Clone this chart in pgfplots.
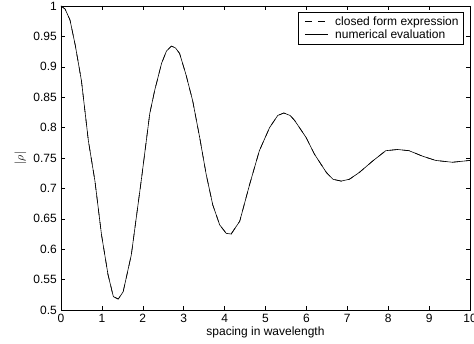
\documentclass[border=0pt]{standalone}
\usepackage{pgfplots}
\pgfplotsset{compat=1.18}
\usepackage{fontspec}
\setmainfont{Liberation Sans}
\begin{document}
\fontsize{12bp}{14bp}\selectfont
\begin{tikzpicture}
\begin{axis}[
  scale only axis,
  width=409bp, height=304bp,
  xmin=0, xmax=10, ymin=0.5, ymax=1,
  xtick={0,1,...,10},
  ytick={0.5,0.55,...,1.01},
  tick align=inside,
  major tick length=4bp,
  tick style={black, line width=0.5pt},
  axis line style={line width=0.6pt},
  /pgf/number format/assume math mode=true,
  yticklabel style={/pgf/number format/fixed, /pgf/number format/precision=2},
  xlabel={spacing in wavelength},
  ylabel={$|\rho|$},
  xlabel style={yshift=4bp},
  ylabel style={yshift=-1bp},
  legend style={at={(0.985,0.98)}, anchor=north east, draw=black, line width=0.6pt,
    font=\fontsize{12bp}{12bp}\selectfont, inner xsep=3bp, inner ysep=2bp, row sep=-1.5bp,
    legend cell align=left},
  legend image code/.code={\path (-3bp,0bp) (28bp,0bp); \draw[#1] (0bp,0bp) -- (23bp,0bp);},
]
\addplot[black, line width=0.6pt, dash pattern=on 7bp off 6bp] coordinates {
(0,1.0)(0.1,0.995)(0.22,0.977)(0.35,0.935)(0.5,0.877)(0.67,0.778)(0.83,0.712)(0.99,0.624)(1.15,0.558)(1.28,0.522)(1.40,0.518)(1.52,0.530)(1.72,0.591)(1.97,0.717)(2.17,0.823)(2.29,0.861)(2.46,0.906)(2.58,0.926)(2.70,0.934)(2.80,0.931)(2.90,0.922)(3.06,0.886)(3.22,0.844)(3.39,0.784)(3.55,0.723)(3.71,0.673)(3.88,0.640)(4.04,0.626)(4.16,0.625)(4.37,0.646)(4.61,0.706)(4.85,0.762)(5.10,0.800)(5.30,0.820)(5.45,0.824)(5.60,0.820)(5.71,0.812)(5.99,0.784)(6.20,0.756)(6.49,0.726)(6.65,0.715)(6.85,0.712)(7.05,0.715)(7.29,0.726)(7.62,0.745)(7.94,0.762)(8.23,0.764)(8.51,0.762)(8.84,0.753)(9.16,0.746)(9.57,0.743)(10,0.746)
};
\addlegendentry{closed form expression}
\addplot[black, line width=0.6pt] coordinates {
(0,1.0)(0.1,0.995)(0.22,0.977)(0.35,0.935)(0.5,0.877)(0.67,0.778)(0.83,0.712)(0.99,0.624)(1.15,0.558)(1.28,0.522)(1.40,0.518)(1.52,0.530)(1.72,0.591)(1.97,0.717)(2.17,0.823)(2.29,0.861)(2.46,0.906)(2.58,0.926)(2.70,0.934)(2.80,0.931)(2.90,0.922)(3.06,0.886)(3.22,0.844)(3.39,0.784)(3.55,0.723)(3.71,0.673)(3.88,0.640)(4.04,0.626)(4.16,0.625)(4.37,0.646)(4.61,0.706)(4.85,0.762)(5.10,0.800)(5.30,0.820)(5.45,0.824)(5.60,0.820)(5.71,0.812)(5.99,0.784)(6.20,0.756)(6.49,0.726)(6.65,0.715)(6.85,0.712)(7.05,0.715)(7.29,0.726)(7.62,0.745)(7.94,0.762)(8.23,0.764)(8.51,0.762)(8.84,0.753)(9.16,0.746)(9.57,0.743)(10,0.746)
};
\addlegendentry{numerical evaluation}
\coordinate (ll) at (rel axis cs:0,0);
\coordinate (ur) at (rel axis cs:1,1);
\end{axis}
\pgfresetboundingbox
\path[use as bounding box] ([shift={(-61bp,-34bp)}]ll) rectangle ([shift={(4bp,6bp)}]ur);
\end{tikzpicture}
\end{document}
